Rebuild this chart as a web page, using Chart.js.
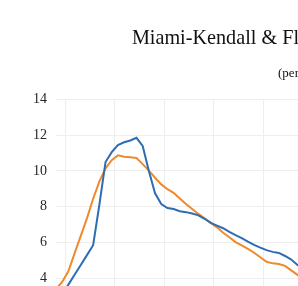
<!DOCTYPE html>
<html>
<head>
<meta charset="utf-8">
<script src="https://cdn.jsdelivr.net/npm/chart.js@4"></script>
<style>
  html, body { margin: 0; padding: 0; background: #fff; overflow: hidden; }
  #wrap { width: 298px; height: 286px; overflow: hidden; }
</style>
</head>
<body>
<div id="wrap">
  <canvas id="unemployment" width="603" height="413"></canvas>
</div>
<script>
// quarterly series, first quarter shown is 2007 Q3
const startYear = 2007
const startQuarter = 3

const miamiKendall = [
  2.6, 3.1, 3.65, 4.2, 4.75, 5.3, 5.85, 8.1, 10.5, 11.05,
  11.45, 11.6, 11.7, 11.85, 11.4, 10.0, 8.75, 8.15, 7.93, 7.87,
  7.75, 7.7, 7.62, 7.52, 7.33, 7.1, 6.95, 6.8, 6.6, 6.42,
  6.25, 6.05, 5.87, 5.72, 5.58, 5.48, 5.42, 5.25, 5.05, 4.75,
  4.55, 4.45, 4.4, 4.35, 4.3, 4.3
]

const florida = [
  3.4, 3.8, 4.4, 5.4, 6.37, 7.35, 8.45, 9.4, 10.15, 10.6,
  10.87, 10.8, 10.77, 10.72, 10.38, 10.02, 9.62, 9.25, 8.98, 8.78,
  8.46, 8.15, 7.88, 7.6, 7.36, 7.1, 6.85, 6.55, 6.3, 6.03,
  5.85, 5.65, 5.43, 5.18, 4.93, 4.84, 4.8, 4.7, 4.45, 4.2,
  4.0, 3.9, 3.85, 3.8, 3.8, 3.8
]

const yTicks = [0, 2, 4, 6, 8, 10, 12, 14]

var labels = []
for (let i = 0; i < miamiKendall.length; i++) {
  const q = startQuarter - 1 + i
  labels.push(`${startYear + Math.floor(q / 4)} Q${q % 4 + 1}`)
}

const serif = 'Liberation Serif'
const gridColor = '#eeeeee'
const textColor = '#262626'

const c = document.getElementById('unemployment').getContext('2d')

new Chart(c, {
  type: 'line',
  data: {
    labels,
    datasets: [
      {
        label: 'Miami-Kendall',
        data: miamiKendall,
        borderColor: '#2e6db4',
        backgroundColor: '#2e6db4',
        borderWidth: 2,
        pointRadius: 0,
        tension: 0
      },
      {
        label: 'Florida',
        data: florida,
        borderColor: '#ef8a2c',
        backgroundColor: '#ef8a2c',
        borderWidth: 2,
        pointRadius: 0,
        tension: 0
      }
    ]
  },
  options: {
    responsive: false,
    animation: false,
    layout: { padding: 0 },
    plugins: {
      title: {
        display: true,
        text: 'Miami-Kendall & Florida Unemployment',
        color: '#111',
        font: { family: serif, size: 20.2, weight: 'normal' },
        padding: { top: 27, bottom: 7 }
      },
      subtitle: {
        display: true,
        text: '(percent)',
        color: '#111',
        font: { family: serif, size: 13, weight: 'normal' },
        padding: { top: 8, bottom: 17.5 }
      },
      legend: {
        position: 'bottom',
        labels: {
          font: { family: serif, size: 13 },
          color: textColor,
          boxHeight: 2,
          boxWidth: 20
        }
      },
      tooltip: { enabled: false }
    },
    scales: {
      x: {
        type: 'category',
        offset: false,
        border: { display: false },
        grid: {
          offset: true,
          color: ctx => ctx.index % 8 === 2 ? gridColor : 'transparent',
          drawTicks: false
        },
        ticks: {
          autoSkip: false,
          maxRotation: 0,
          font: { family: serif, size: 13 },
          color: textColor,
          callback: (v, i) => i % 8 === 2 ? labels[i].slice(0, 4) : ''
        },
        afterFit: s => { s.height = 30 }
      },
      y: {
        min: yTicks[0],
        max: yTicks[yTicks.length - 1],
        border: { display: false },
        grid: { color: gridColor, drawTicks: false },
        afterBuildTicks: s => { s.ticks = yTicks.map(v => ({ value: v })) },
        ticks: {
          padding: 9,
          font: { family: serif, size: 14 },
          color: textColor
        },
        afterFit: s => { s.width = 56 }
      },
      spacer: {
        position: 'right',
        display: true,
        border: { display: false },
        grid: { display: false },
        ticks: { display: false },
        afterFit: s => { s.width = 268.4 }
      }
    }
  }
})
</script>
</body>
</html>
